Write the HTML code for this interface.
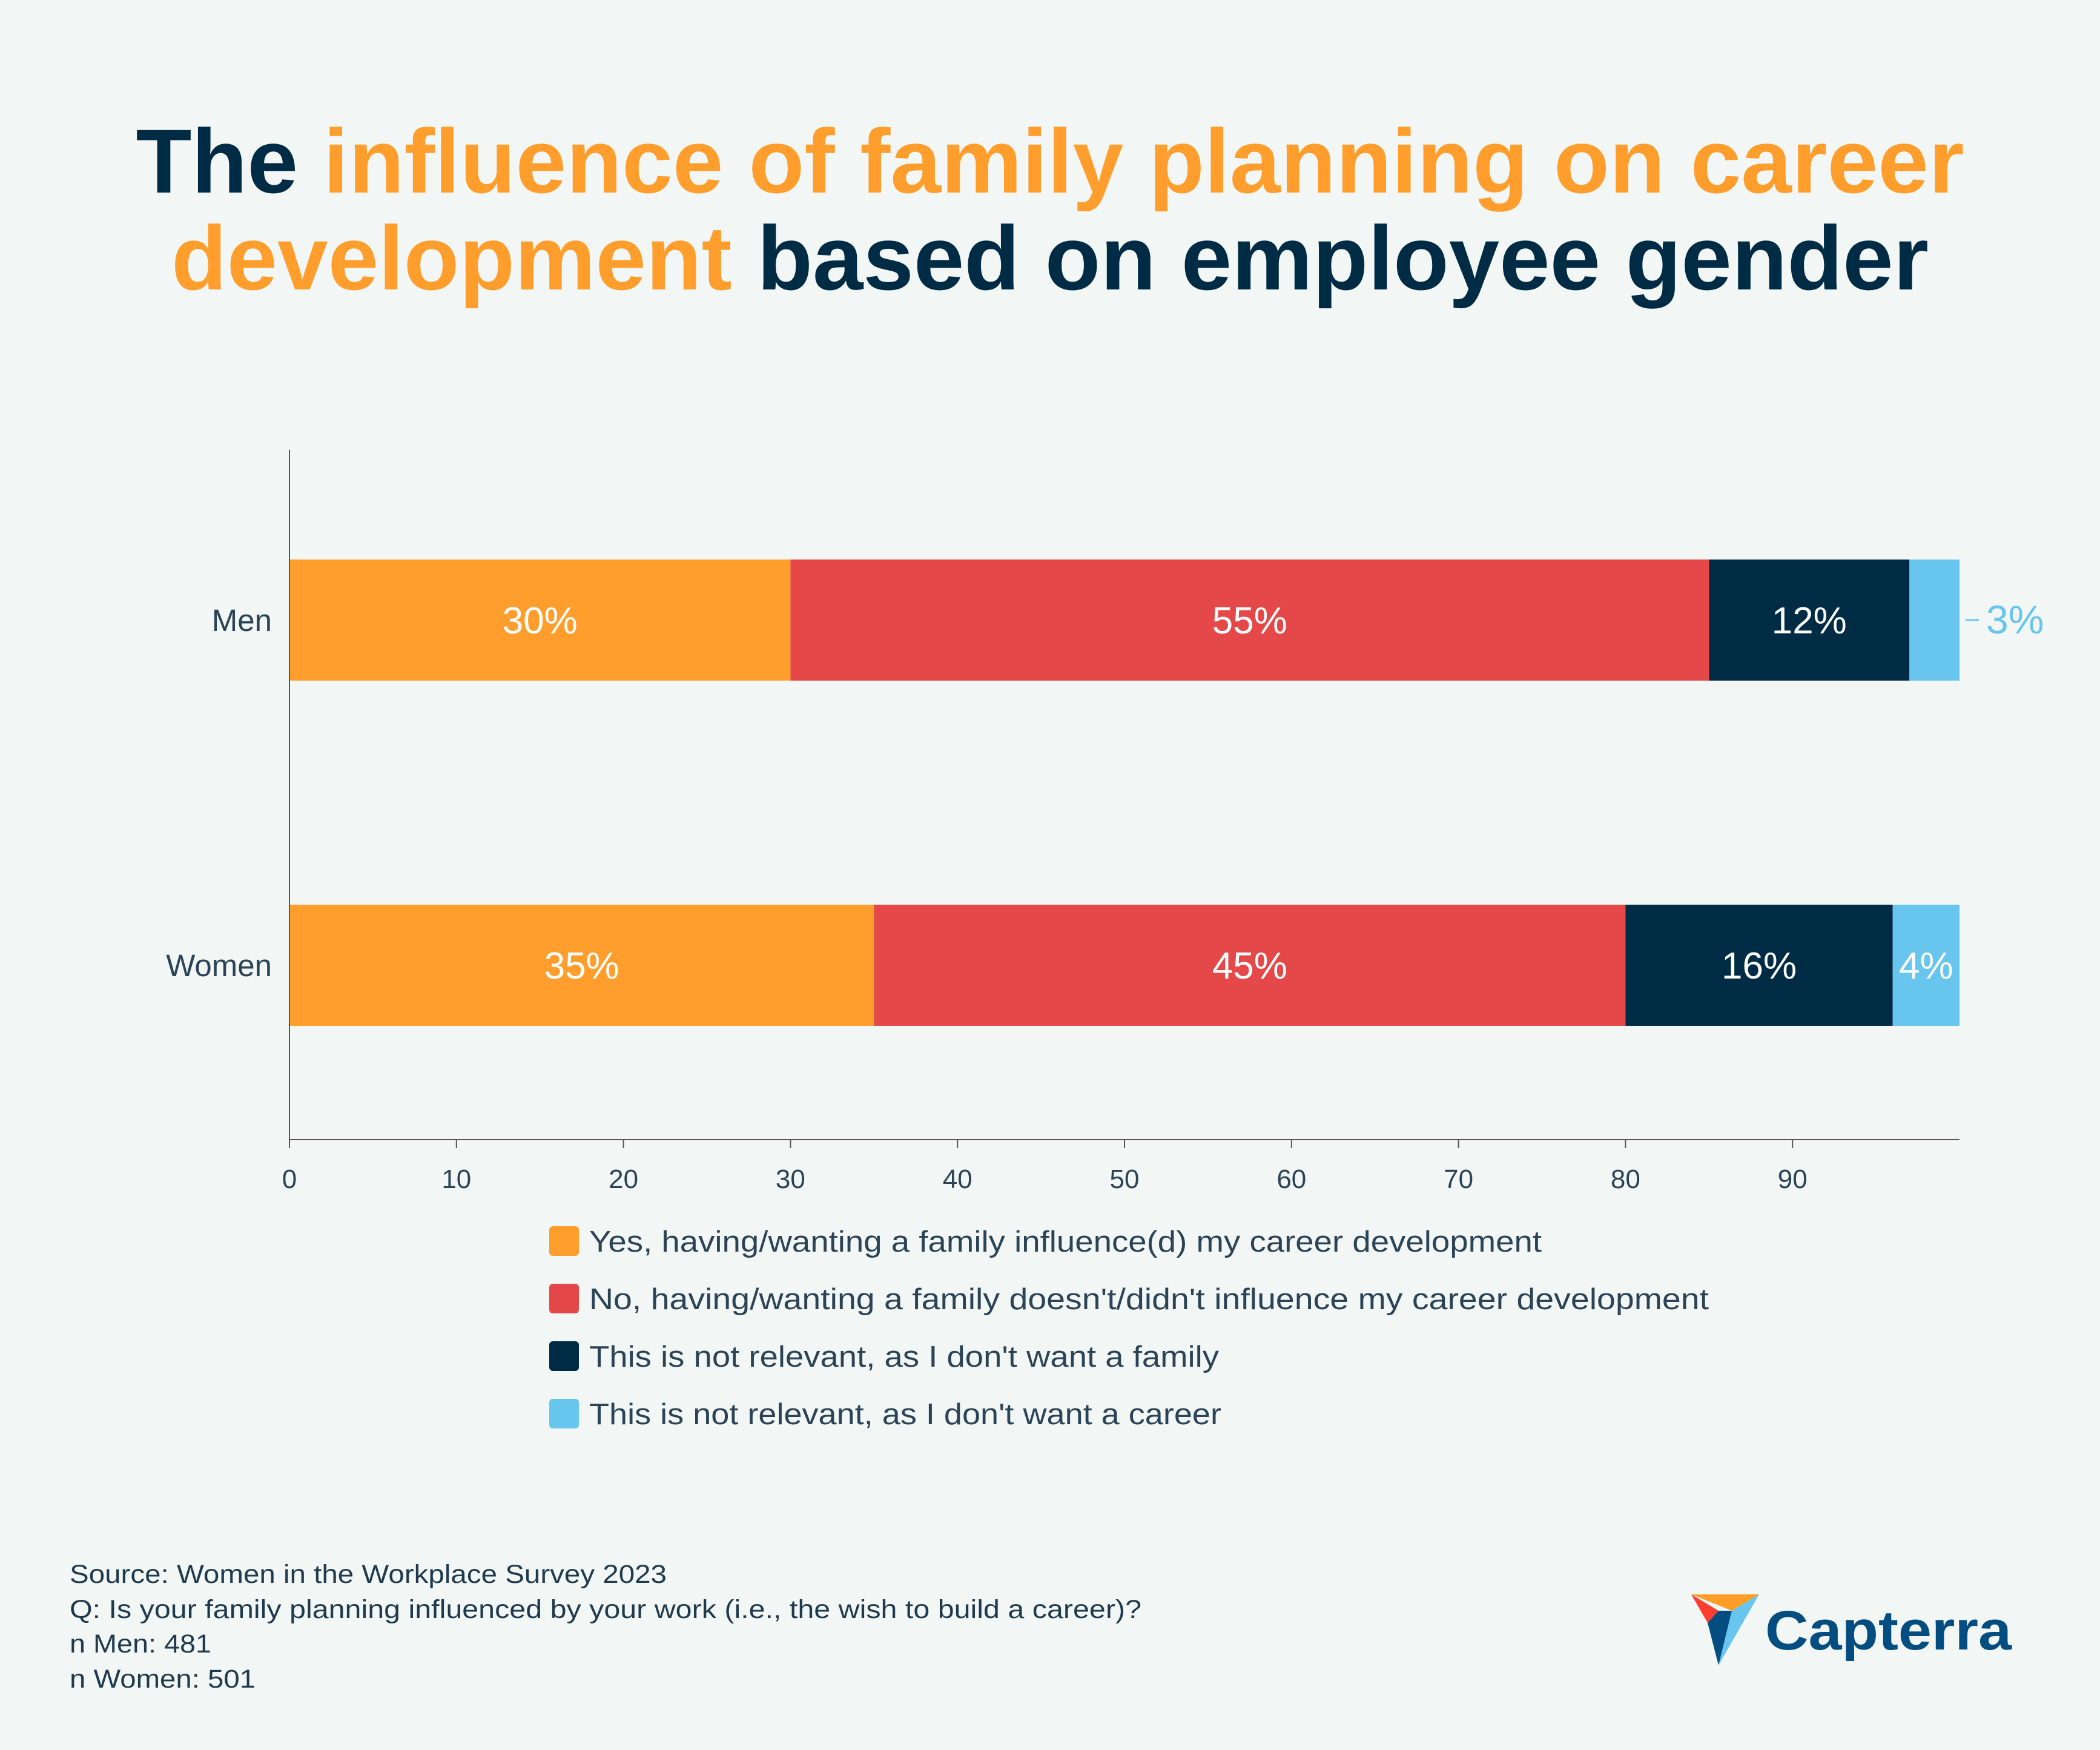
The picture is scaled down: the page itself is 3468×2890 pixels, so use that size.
<!DOCTYPE html>
<html><head><meta charset="utf-8"><style>
html,body{margin:0;padding:0;background:#f2f7f6;}
svg{display:block;font-family:"Liberation Sans","DejaVu Sans",sans-serif;}
</style></head><body>
<svg id="chart" width="3468" height="2890" viewBox="0 0 3468 2890" xmlns="http://www.w3.org/2000/svg">
<rect width="3468" height="2890" fill="#f2f7f6"/>
<text x="1734" y="318" text-anchor="middle" font-size="150" font-weight="bold" fill="#002b45" textLength="3019" lengthAdjust="spacingAndGlyphs">The <tspan fill="#ff9e2c">influence of family planning on career</tspan></text>
<text x="1734" y="478" text-anchor="middle" font-size="150" font-weight="bold" fill="#002b45" textLength="2902" lengthAdjust="spacingAndGlyphs"><tspan fill="#ff9e2c">development</tspan> based on employee gender</text>
<g id="plot"></g>
<g>
<g><rect x="907" y="2025" width="49" height="49" rx="6" fill="#ff9e2c"/><text x="973" y="2067" font-size="49" fill="#2b4356" textLength="1573" lengthAdjust="spacingAndGlyphs">Yes, having/wanting a family influence(d) my career development</text></g>
<g><rect x="907" y="2120" width="49" height="49" rx="6" fill="#e54848"/><text x="973" y="2162" font-size="49" fill="#2b4356" textLength="1849" lengthAdjust="spacingAndGlyphs">No, having/wanting a family doesn't/didn't influence my career development</text></g>
<g><rect x="907" y="2215" width="49" height="49" rx="6" fill="#002b45"/><text x="973" y="2257" font-size="49" fill="#2b4356" textLength="1040" lengthAdjust="spacingAndGlyphs">This is not relevant, as I don't want a family</text></g>
<g><rect x="907" y="2310" width="49" height="49" rx="6" fill="#68c5ee"/><text x="973" y="2352" font-size="49" fill="#2b4356" textLength="1044" lengthAdjust="spacingAndGlyphs">This is not relevant, as I don't want a career</text></g>
</g>
<g font-size="43" fill="#1f3a4d">
<text x="115" y="2614" textLength="986" lengthAdjust="spacingAndGlyphs">Source: Women in the Workplace Survey 2023</text>
<text x="115" y="2672" textLength="1770" lengthAdjust="spacingAndGlyphs">Q: Is your family planning influenced by your work (i.e., the wish to build a career)?</text>
<text x="115" y="2729" textLength="234" lengthAdjust="spacingAndGlyphs">n Men: 481</text>
<text x="115" y="2787" textLength="307" lengthAdjust="spacingAndGlyphs">n Women: 501</text>
</g>
<g>
<polygon points="2793,2633 2905,2633 2860,2660" fill="#ff9d28"/>
<polygon points="2905,2633 2860,2660 2838,2750" fill="#68c5ee"/>
<polygon points="2838,2660 2860,2660 2838,2750 2820,2680" fill="#044d80"/>
<polygon points="2793,2633 2838,2660 2820,2680" fill="#ff3d2e"/>
<text x="2915" y="2724" font-size="92" font-weight="bold" fill="#044d80" textLength="407" lengthAdjust="spacingAndGlyphs">Capterra</text>
</g>
</svg>
<script>
const categories = ["Men","Women"];
const seriesNames = ["Yes","No","No family","No career"];
const seriesColors = ["#ff9e2c","#e54848","#002b45","#68c5ee"];
const yesValues = [30,35];
const noValues = [55,45];
const noFamilyValues = [12,16];
const noCareerValues = [3,4];
const xTicks = [0,10,20,30,40,50,60,70,80,90];

const NS="http://www.w3.org/2000/svg";
const plot=document.getElementById('plot');
const x0=478, x100=3236, yTop=743, yBot=1882;
const xScale=v=>x0+(x100-x0)*v/100;
const yCenter=i=>1024+i*(1594-1024);
const barH=200;
function mk(tag,attrs){const e=document.createElementNS(NS,tag);for(const k in attrs)e.setAttribute(k,attrs[k]);plot.appendChild(e);return e;}
const series=[yesValues,noValues,noFamilyValues,noCareerValues];
const snames=["yes","no","no-family","no-career"];
categories.forEach((c,i)=>{
  let acc=0;
  series.forEach((vals,s)=>{
    const v=vals[i];
    const r=mk('rect',{x:xScale(acc),y:yCenter(i)-barH/2,width:xScale(acc+v)-xScale(acc),height:barH,fill:seriesColors[s]});
    
    
    const mid=(xScale(acc)+xScale(acc+v))/2;
    let tx=mid, fill='#fff', anchor='middle', fs=62;
    if(v<4){fill='#68c5ee';anchor='start';fs=66;
      const ln=mk('line',{x1:xScale(acc+v)+10,x2:xScale(acc+v)+32,y1:yCenter(i),y2:yCenter(i),stroke:'#68c5ee','stroke-width':3});
      
      
      tx=xScale(acc+v)+44;}
    const t=mk('text',{x:tx,y:yCenter(i)+22,'text-anchor':anchor,'font-size':fs,fill:fill});
    t.textContent=v+'%';
    
    
    acc+=v;
  });
  const lab=mk('text',{x:449,y:yCenter(i)+18,'text-anchor':'end','font-size':51,fill:'#2b4356'});
  lab.textContent=c;
  
  
});
const ya=mk('line',{x1:x0,x2:x0,y1:yTop,y2:yBot,stroke:'#555','stroke-width':2});


const xa=mk('line',{x1:x0,x2:x100,y1:yBot,y2:yBot,stroke:'#555','stroke-width':2});


xTicks.forEach(v=>{
  const tk=mk('line',{x1:xScale(v),x2:xScale(v),y1:yBot,y2:yBot+14,stroke:'#555','stroke-width':2});
  
  
  const t=mk('text',{x:xScale(v),y:1962,'text-anchor':'middle','font-size':44,fill:'#2b4356'});
  t.textContent=v;
  
  
});
</script>
</body></html>
